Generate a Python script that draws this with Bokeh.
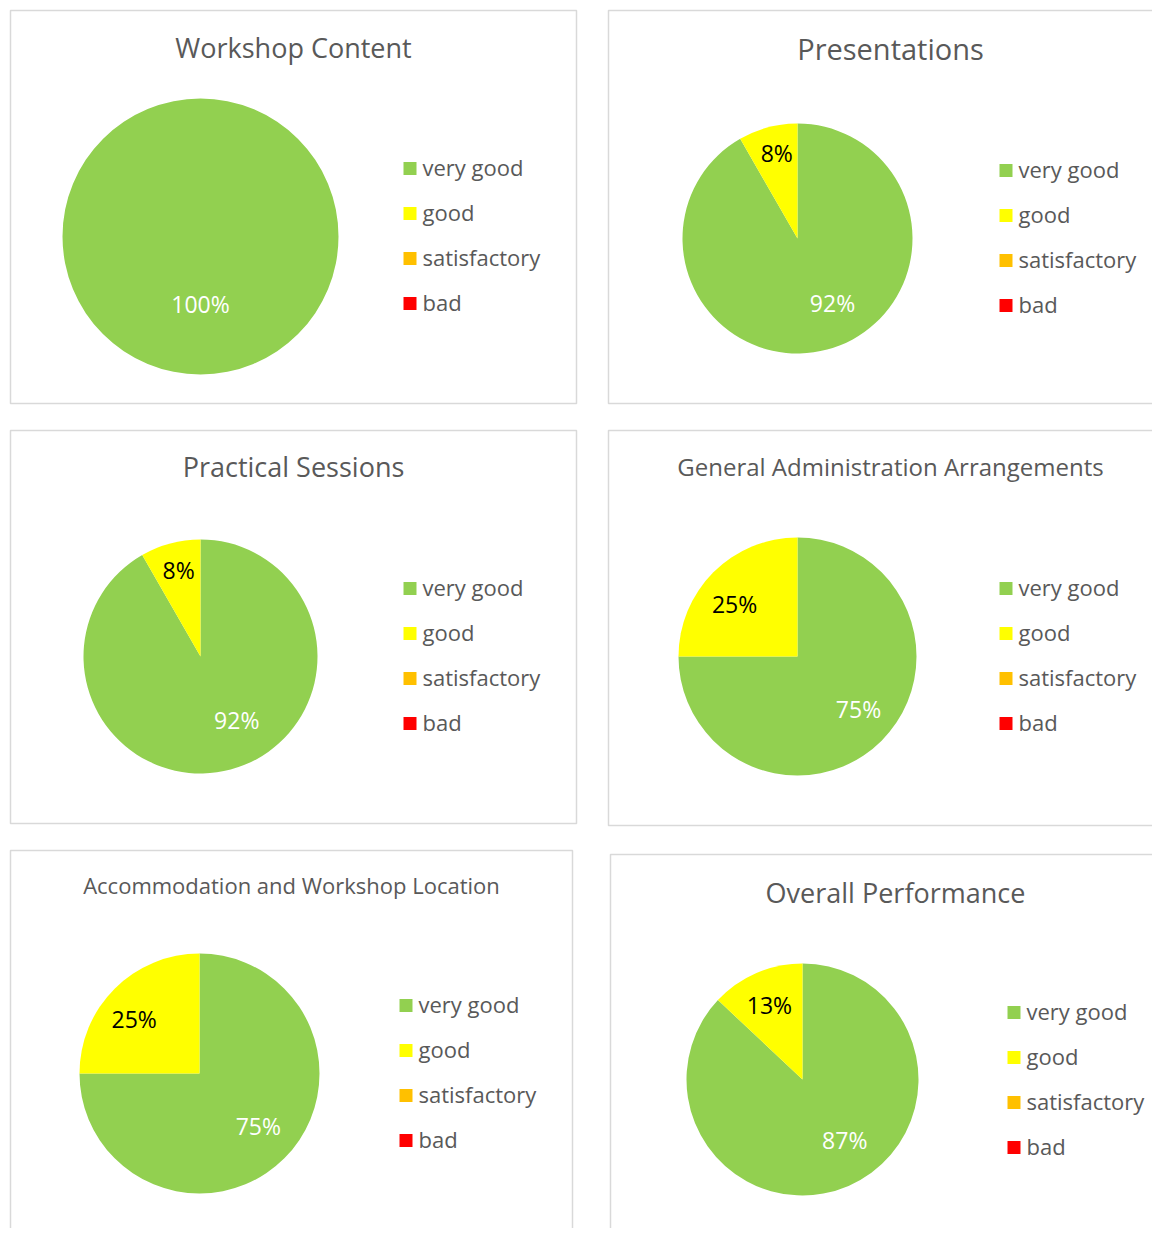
import math
from bokeh.plotting import figure
from bokeh.models import Range1d, ColumnDataSource
from bokeh.core.properties import value
from bokeh.embed import file_html
from bokeh.resources import INLINE

# ---------------- data ----------------
categories = ["very good", "good", "satisfactory", "bad"]
colors = ["#92D050", "#FFFF00", "#FFC000", "#FF0000"]
label_colors = ["white", "black", "black", "white"]

titles = ["Workshop Content", "Presentations", "Practical Sessions",
          "General Administration Arrangements",
          "Accommodation and Workshop Location", "Overall Performance"]

workshop_content = [100.0, 0.0, 0.0, 0.0]
presentations = [91.7, 8.3, 0.0, 0.0]
practical_sessions = [91.7, 8.3, 0.0, 0.0]
general_administration = [75.0, 25.0, 0.0, 0.0]
accommodation_location = [75.0, 25.0, 0.0, 0.0]
overall_performance = [87.0, 13.0, 0.0, 0.0]

series = [workshop_content, presentations, practical_sessions,
          general_administration, accommodation_location, overall_performance]

# ---------------- layout (screen pixels) ----------------
# border box (x0, y0, x1, y1), title (cx, cy, size), pie (cx, cy, r), legend (x, y0),
# lab: per visible slice (radius fraction, angle offset in degrees) for data labels
layout = [
    dict(box=(10, 10, 576, 403), title=(293, 48, 27), pie=(200, 236, 138), leg=(403, 168),
         lab=[(0.5, 0)]),
    dict(box=(608, 10, 1175, 403), title=(890, 49, 29), pie=(797, 238, 115), leg=(999, 170),
         lab=[(0.65, 13), (0.75, -1)]),
    dict(box=(10, 430, 576, 823), title=(293, 467, 27), pie=(200, 656, 117), leg=(403, 588),
         lab=[(0.64, 14), (0.75, -0.5)]),
    dict(box=(608, 430, 1175, 825), title=(890, 467, 24), pie=(797, 656, 119), leg=(999, 588),
         lab=[(0.69, 3), (0.68, 6)]),
    dict(box=(10, 850, 572, 1250), title=(291, 885, 22), pie=(199, 1073, 120), leg=(399, 1005),
         lab=[(0.67, 2), (0.70, 6)]),
    dict(box=(610, 854, 1175, 1250), title=(895, 893, 27), pie=(802, 1079, 116), leg=(1007, 1012),
         lab=[(0.65, 10.7), (0.69, 1)]),
]

W, H = 1152, 1228
OX, OY = 0, 0
FONT = "Open Sans"
GREY = "#595959"


def Y(sy):
    return (OY + H) - sy


p = figure(width=W, height=H, x_range=Range1d(OX, OX + W), y_range=Range1d(0, H),
           output_backend="svg", toolbar_location=None, min_border=0)
p.min_border_left = p.min_border_right = p.min_border_top = p.min_border_bottom = 0
p.outline_line_color = None
p.axis.visible = False
p.grid.visible = False
p.background_fill_color = "white"
p.border_fill_color = "white"

for vals, title, lay in zip(series, titles, layout):
    x0, y0, x1, y1 = lay["box"]
    p.quad(left=[x0], right=[x1], top=[Y(y0)], bottom=[Y(y1)],
           fill_color=None, line_color="#D9D9D9", line_width=1.5)

    tx, ty, ts = lay["title"]
    p.text(x=[tx], y=[Y(ty)], text=[title], text_font=value(FONT),
           text_font_size=f"{ts}px", text_color=GREY,
           text_align="center", text_baseline="middle", y_offset=-1)

    cx, cy, r = lay["pie"]
    total = sum(vals)
    cum = 0.0
    starts, ends, cols, lx, ly, lt, lc = [], [], [], [], [], [], []
    k = 0
    for v, col, lcol in zip(vals, colors, label_colors):
        if v <= 0:
            continue
        a_start = cum / total
        cum += v
        a_end = cum / total
        mid = math.pi / 2 - 2 * math.pi * (a_start + a_end) / 2
        if a_end - a_start >= 0.9999:
            p.circle(x=[cx], y=[Y(cy)], radius=r, fill_color=col, line_color=None)
        else:
            # clockwise from 12 o'clock
            starts.append(math.pi / 2 - 2 * math.pi * a_end)
            ends.append(math.pi / 2 - 2 * math.pi * a_start)
            cols.append(col)
        frac, dang = lay["lab"][k]
        k += 1
        ang = mid + math.radians(dang)
        lx.append(cx + frac * r * math.cos(ang))
        ly.append(Y(cy) + frac * r * math.sin(ang))
        lt.append(f"{round(v / total * 100)}%")
        lc.append(lcol)
    if starts:
        src = ColumnDataSource(dict(x=[cx] * len(starts), y=[Y(cy)] * len(starts),
                                    s=starts, e=ends, c=cols))
        p.wedge(x="x", y="y", radius=r, start_angle="s", end_angle="e",
                fill_color="c", line_color=None, source=src)
    p.text(x=lx, y=ly, text=lt, text_color=lc, text_font=value(FONT),
           text_font_size="23px", text_align="center", text_baseline="middle",
           y_offset=-2)

    gx, gy = lay["leg"]
    rows = [Y(gy + 45 * i) for i in range(len(categories))]
    p.rect(x=[gx + 6.5] * len(categories), y=rows, width=13, height=13,
           fill_color=colors, line_color=None)
    p.text(x=[gx + 19] * len(categories), y=rows, text=categories,
           text_font=value(FONT), text_font_size="22px", text_color=GREY,
           text_align="left", text_baseline="middle", y_offset=-2)

open("out.html", "w").write(file_html(p, INLINE))
